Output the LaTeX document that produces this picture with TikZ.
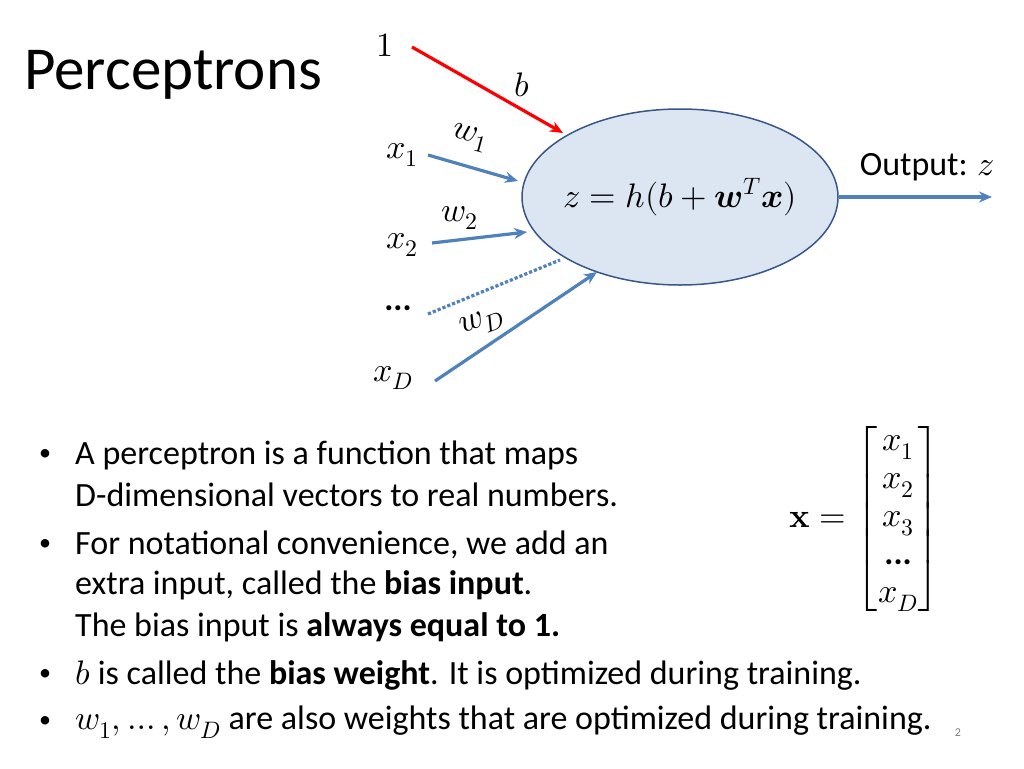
\documentclass[tikz,border=0pt]{standalone}
\usepackage{amsmath}
\usepackage{fontspec}
\usepackage{unicode-math}
\setmainfont{Carlito}
\setmathfont{Latin Modern Math}
\usetikzlibrary{arrows.meta, shapes.geometric}

\definecolor{arrowblue}{RGB}{79,129,189}
\definecolor{cellfill}{RGB}{220,230,242}
\definecolor{celledge}{RGB}{56,86,135}

\tikzset{
	inarrow/.style={draw=arrowblue, line width=3.2pt, -{Stealth[length=13pt, width=11pt]}},
	biasarrow/.style={draw=red, line width=3.2pt, -{Stealth[length=13pt, width=11pt]}},
	lbl/.style={font=\fontsize{34}{40}\selectfont, inner sep=1pt},
	bullet/.style={anchor=west, font=\fontsize{34}{38}\selectfont, inner sep=0pt},
	dot/.style={font=\fontsize{24}{28}\selectfont, inner sep=0pt},
}

\begin{document}
\begin{tikzpicture}[x=1pt, y=-1pt]
	\useasboundingbox[fill=white] (0,0) rectangle (1024,768);
	
	\node[anchor=west, font=\fontsize{61}{66}\selectfont, inner sep=0pt] (title) at (24,75) {Perceptrons};
	
	\node[ellipse, draw=celledge, fill=cellfill, line width=1.5pt, inner sep=0pt,
		minimum width=316pt, minimum height=176pt] (cell) at (680,197) {};
	\node[font=\fontsize{34}{38}\selectfont, inner sep=0pt] (rule) at (cell.center)
		{$z = h(b + \symbfit{w}^T \symbfit{x})$};
	
	% inputs
	\node[lbl] (one) at (385,45) {$1$};
	\node[lbl] (x1) at (402,155) {$x_1$};
	\node[lbl] (x2) at (402,245) {$x_2$};
	\node[lbl] (dots) at (398,308) {\textbf{...}};
	\node[lbl] (xD) at (393,378) {$x_D$};
	
	% weights
	\node[lbl] (b) at (522,85) {$b$};
	\node[lbl, rotate=-15] (w1) at (470,138) {$w_1$};
	\node[lbl] (w2) at (460,218) {$w_2$};
	\node[lbl, rotate=20] (wD) at (482,323) {$w_D$};
	
	\coordinate (one_e) at (412,47);
	\coordinate (one_h) at (563,133);
	\coordinate (x1_e) at (428,155);
	\coordinate (x1_h) at (518,181);
	\coordinate (x2_e) at (432,243);
	\coordinate (x2_h) at (527,232);
	\coordinate (dots_e) at (428,314);
	\coordinate (dots_h) at (560,260);
	\coordinate (xD_e) at (435,381);
	\coordinate (xD_h) at (597,272);
	\coordinate (out_h) at (992,197);
	
	\draw[biasarrow] (one_e) -- (one_h);
	\draw[inarrow] (x1_e) -- (x1_h);
	\draw[inarrow] (x2_e) -- (x2_h);
	\draw[draw=arrowblue, line width=3.2pt, dotted] (dots_e) -- (dots_h);
	\draw[inarrow] (xD_e) -- (xD_h);
	\draw[inarrow] (cell.east) -- (out_h);
	
	\node[anchor=east, font=\fontsize{34}{38}\selectfont, inner sep=0pt] (out) at (995,167) {Output: $z$};
	
	% input vector
	\node[font=\fontsize{34}{38}\selectfont, inner sep=0pt] (vec) at (865,519)
		{$\symbf{x} = \renewcommand{\arraystretch}{1.0}\begin{bmatrix} x_1\\ x_2\\ x_3\\ \textbf{...}\\ x_D \end{bmatrix}$};
	
	% bullets
	\foreach \y/\n in {455/1, 545/2, 675/3, 722/4}
		\node[dot] (dot\n) at (45,\y) {\textbullet};
	\node[bullet] (b1) at (75,455) {A perceptron is a function that maps};
	\node[bullet] (b1b) at (75,495) {D-dimensional vectors to real numbers.};
	\node[bullet] (b2) at (75,545) {For notational convenience, we add an};
	\node[bullet] (b2b) at (75,585) {extra input, called the \textbf{bias input}.};
	\node[bullet] (b2c) at (75,627) {The bias input is \textbf{always equal to 1.}};
	\node[bullet] (b3) at (75,675) {$b$ is called the \textbf{bias weight}. It is optimized during training.};
	\node[bullet] (b4) at (75,722) {$w_1,\ldots,w_D$ are also weights that are optimized during training.};
	
	\node[font=\fontsize{12}{14}\selectfont, text=gray] (page) at (958,733) {2};
\end{tikzpicture}
\end{document}
